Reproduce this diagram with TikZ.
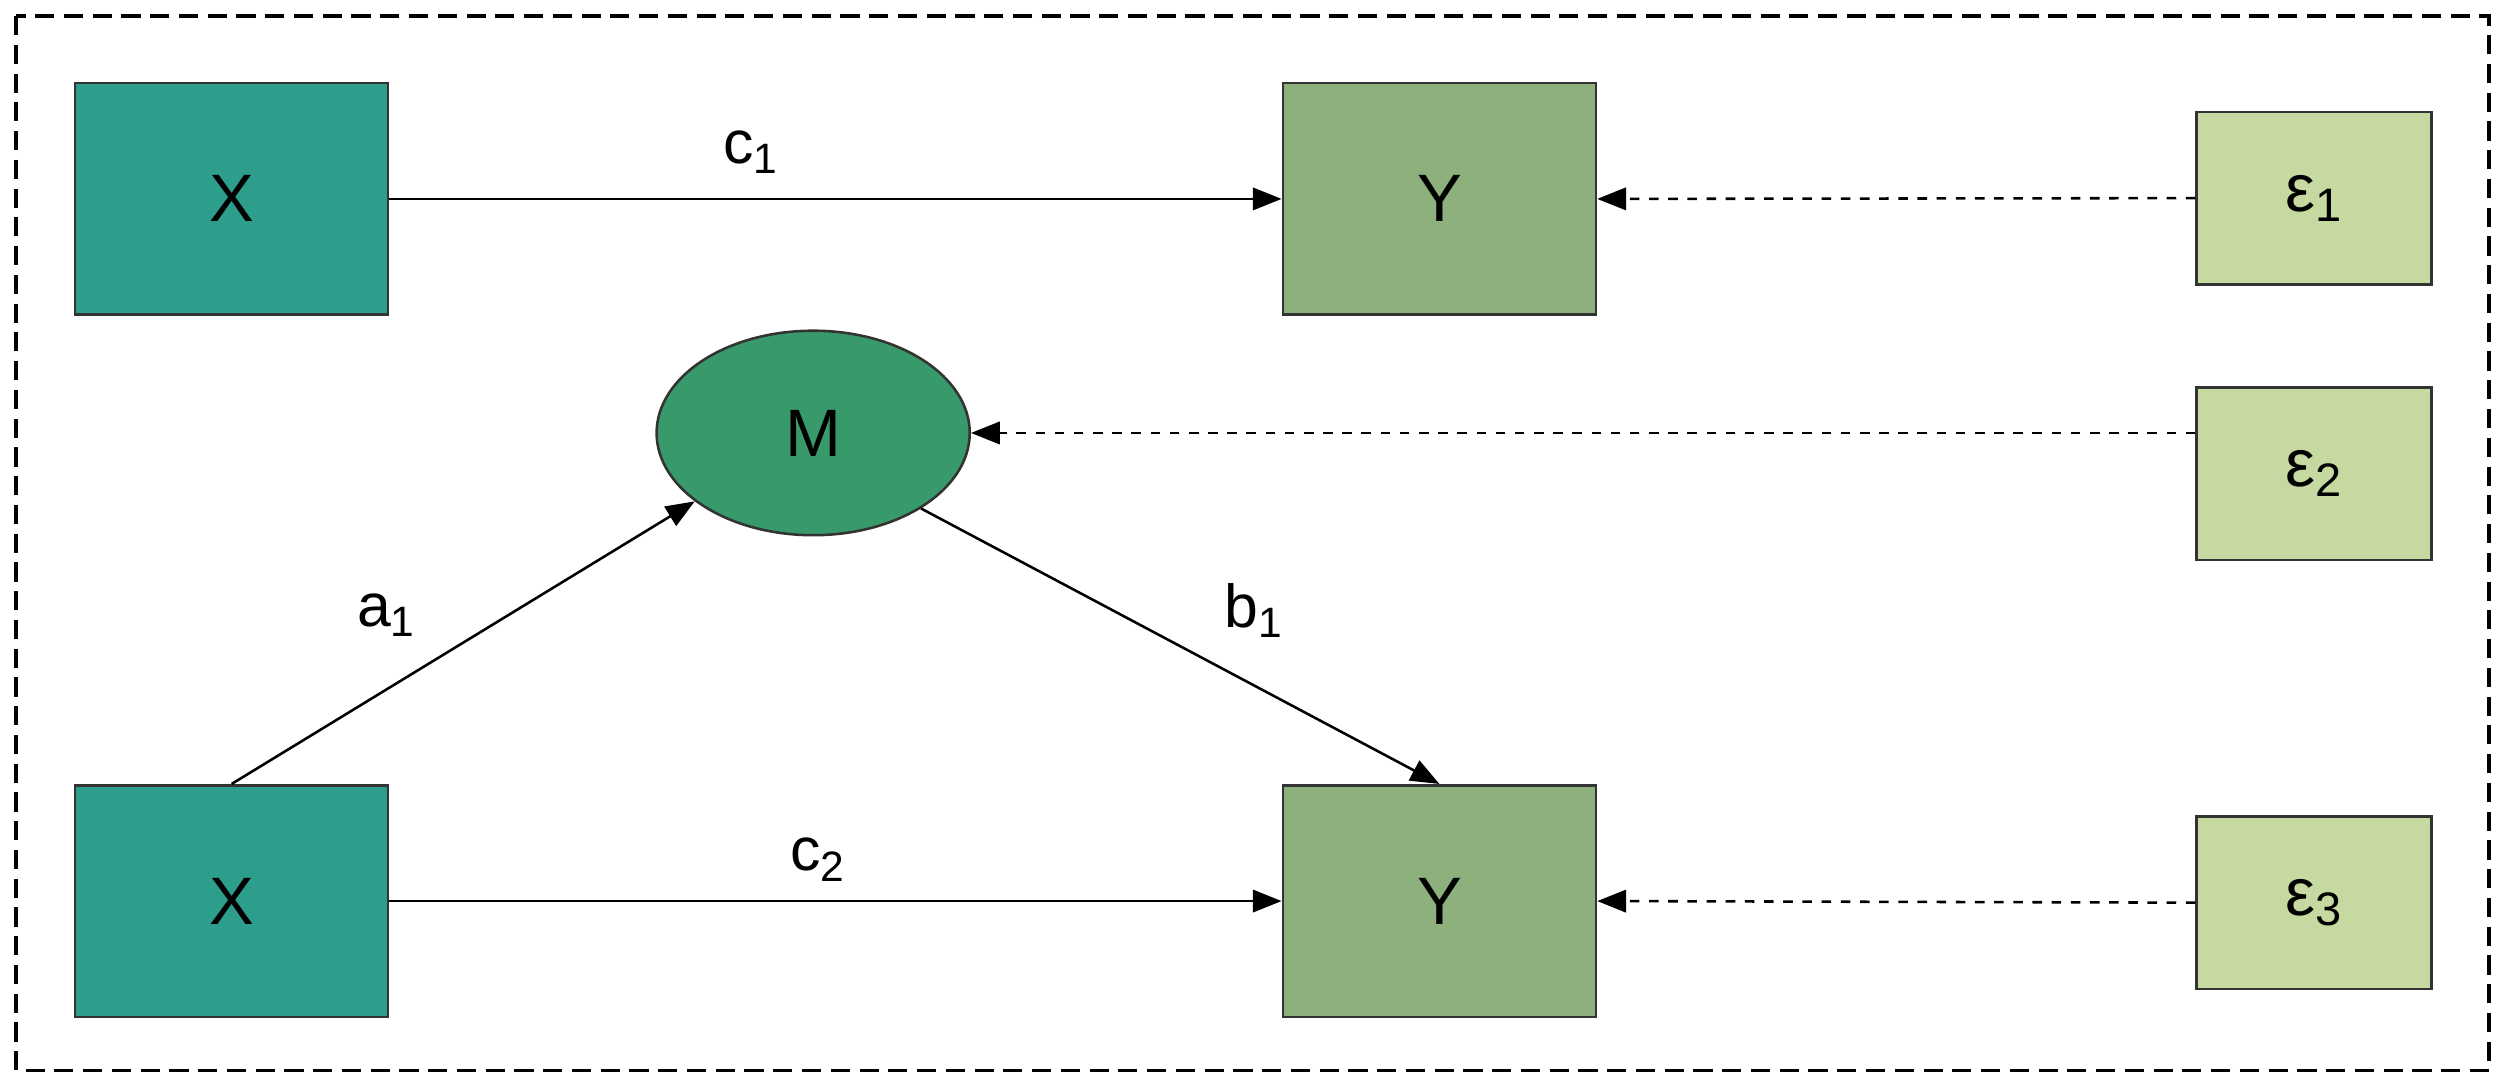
\documentclass[tikz,border=0pt]{standalone}
\usepackage{fontspec}
\setmainfont{Liberation Sans}
\usetikzlibrary{shapes.geometric,arrows.meta}
\definecolor{cx}{HTML}{2E9E8C}
\definecolor{cy}{HTML}{8DB07D}
\definecolor{ce}{HTML}{C5D9A0}
\definecolor{cm}{HTML}{38996A}
\begin{document}
\begin{tikzpicture}[x=0.5pt,y=-0.5pt,
  box/.style={draw=black!80,line width=0.8pt,minimum width=98pt,minimum height=72.5pt,font=\fontsize{21}{24}\selectfont,inner sep=0pt},
  ebox/.style={box,fill=ce,minimum width=73.5pt,minimum height=54pt},
  arr/.style={-{Triangle[length=9pt,width=7pt]},line width=0.8pt},
  darr/.style={arr,dashed},
  lab/.style={font=\fontsize{19}{22}\selectfont}]
\useasboundingbox (0,0) rectangle (1568,682);
\draw[dash pattern=on 6pt off 3pt,line width=1pt] (10,10) rectangle (1558,670);
\node[box,fill=cx] (x1) at (145,124.5) {X};
\node[box,fill=cy] (y1) at (901,124.5) {Y};
\node[ebox] (e1) at (1448.5,124) {ε\textsubscript{1}};
\node[ellipse,draw=black!80,line width=0.8pt,fill=cm,minimum width=98pt,minimum height=64pt,font=\fontsize{21}{24}\selectfont] (m) at (509,271) {M};
\node[ebox] (e2) at (1448.5,296.5) {ε\textsubscript{2}};
\node[box,fill=cx] (x2) at (145,564) {X};
\node[box,fill=cy] (y2) at (901,564) {Y};
\node[ebox] (e3) at (1448.5,565) {ε\textsubscript{3}};
\draw[arr] (x1.east) -- (y1.west);
\node[lab] (lc1) at (470,95) {c\textsubscript{1}};
\draw[darr] (e1.west) -- (y1.east);
\draw[darr] (e2.west |- m.east) -- (m.east);
\draw[arr] (x2.north) -- (m.210);
\node[lab] (la1) at (242,385) {a\textsubscript{1}};
\draw[arr] (m.-35) -- (y2.north);
\node[lab] (lb1) at (785,382) {b\textsubscript{1}};
\draw[arr] (x2.east) -- (y2.west);
\node[lab] (lc2) at (512,538) {c\textsubscript{2}};
\draw[darr] (e3.west) -- (y2.east);
\end{tikzpicture}
\end{document}
